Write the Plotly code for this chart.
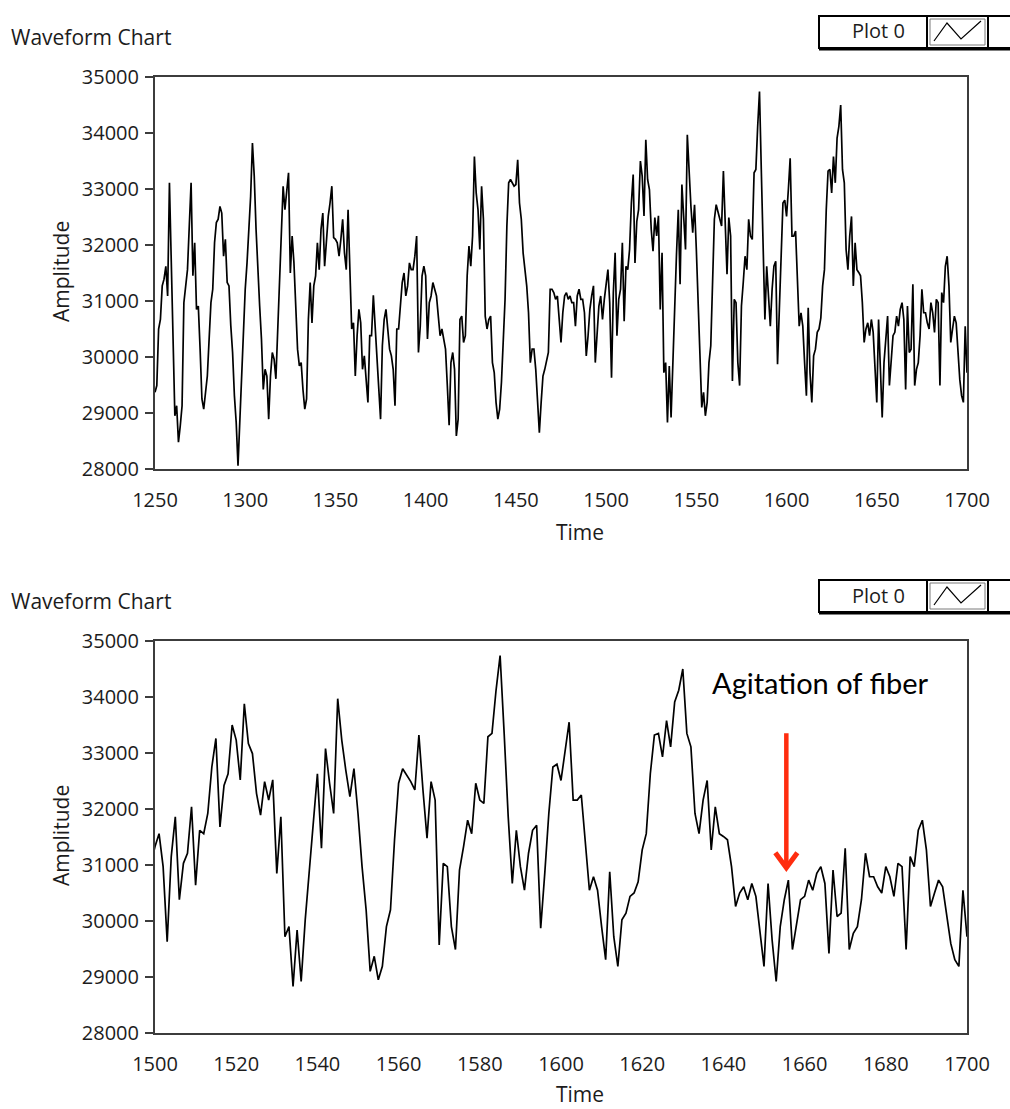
import plotly.graph_objects as go

# ---- data -------------------------------------------------------------
# Amplitude samples, one per time step (1250 .. 1499)
amplitude_early = [
    29370, 29490, 30500, 30670, 31270, 31390, 31620, 31090, 33110, 31560,
    29900, 28950, 29130, 28480, 28770, 29130, 30970, 31330, 31560, 32340,
    33110, 31450, 32040, 30850, 30910, 30140, 29250, 29070, 29420, 29660,
    30320, 30970, 31210, 32040, 32400, 32460, 32690, 32570, 31800, 32100,
    31330, 31270, 30560, 30080, 29310, 28830, 28060, 28830, 29720, 30500,
    31210, 31680, 32220, 32870, 33820, 33230, 32280, 31500, 30910, 30320,
    29420, 29780, 29660, 28890, 29660, 30080, 29960, 29610, 30500, 31500,
    32220, 33050, 32630, 32930, 33290, 31500, 32160, 31680, 30970, 30140,
    29840, 29900, 29420, 29070, 29250, 30670, 31330, 30610, 31270, 31450,
    32040, 31560, 32280, 32570, 31620, 32160, 32510, 32750, 33050, 32130,
    32100, 32040, 31800, 32100, 32460, 31860, 31560, 32630, 31680, 30500,
    30610, 29660, 30380, 30850, 30610, 29780, 30020, 29610, 29190, 30380,
    30380, 31100, 30500, 30080, 29490, 28890, 30200, 30670, 30850, 30440,
    30140, 30020, 29780, 29130, 30500, 30500, 30910, 31330, 31500, 31090,
    31270, 31680, 31560, 31560, 31800, 32160, 30080, 30550, 31450, 31620,
    31450, 30320, 30970, 31090, 31330, 31210, 31090, 30730, 30380, 30500,
    30320, 30140, 29490, 28780, 29900, 30080, 29780, 28590, 28890, 30670,
    30730, 30260, 30380, 31450, 31980, 31620, 32160, 33580, 32930, 32630,
    31920, 33050, 32460, 30730, 30500, 30670, 30730, 29900, 29720, 29190,
    28890, 29070, 29550, 30260, 31030, 32340, 33110, 33170, 33110, 33050,
    33080, 33520, 32750, 32460, 31860, 31560, 31270, 30790, 29900, 30140,
    30140, 29780, 29250, 28650, 29190, 29660, 29780, 29960, 30080, 31210,
    31210, 31150, 31030, 31090, 30730, 30260, 30790, 31090, 31150, 31030,
    31090, 30970, 30970, 30550, 31090, 31210, 31030, 31030, 30790, 30020,
    30380, 30850, 31090, 31270, 29900, 30440, 30910, 31090, 30670, 31030,
]

# Amplitude samples, one per time step (1500 .. 1700)
amplitude_late = [
    31330, 31560, 30970, 29630, 31150, 31860, 30380, 31030, 31210, 32040,
    30640, 31620, 31560, 31920, 32750, 33260, 31680, 32420, 32630, 33500,
    33230, 32520, 33880, 33170, 32990, 32280, 31890, 32490, 32160, 32520,
    30850, 31860, 29720, 29900, 28830, 29840, 28920, 30020, 30850, 31830,
    32630, 31300, 33080, 32460, 31920, 33970, 33230, 32690, 32220, 32720,
    31920, 30970, 30200, 29100, 29370, 28950, 29190, 29900, 30200, 31450,
    32460, 32720, 32600, 32490, 32340, 33320, 32340, 31480, 32490, 32160,
    29570, 31030, 30970, 29900, 29490, 30910, 31330, 31800, 31560, 32460,
    32160, 32100, 33290, 33350, 34120, 34740, 33350, 31860, 30670, 31620,
    30970, 30550, 31210, 31620, 31710, 29870, 30850, 31920, 32750, 32800,
    32510, 32990, 33550, 32160, 32160, 32250, 31330, 30550, 30790, 30550,
    29900, 29310, 30880, 29720, 29190, 30020, 30140, 30440, 30500, 30700,
    31270, 31560, 32630, 33320, 33350, 32930, 33580, 33110, 33910, 34120,
    34500, 33350, 33110, 31920, 31560, 32160, 32510, 31270, 32040, 31560,
    31510, 31450, 30970, 30260, 30500, 30610, 30380, 30670, 30440, 29840,
    29190, 30670, 29660, 28920, 29900, 30380, 30730, 29490, 29900, 30380,
    30440, 30730, 30550, 30850, 30970, 30670, 29420, 30910, 30080, 30140,
    31300, 29490, 29780, 29900, 30380, 31210, 30790, 30790, 30610, 30500,
    30970, 30790, 30440, 31030, 30970, 29490, 31150, 30970, 31620, 31800,
    31270, 30260, 30500, 30730, 30610, 30080, 29600, 29310, 29190, 30550,
    29720,
]

amplitude = amplitude_early + amplitude_late
time = list(range(1250, 1250 + len(amplitude)))

amp_ticks = [28000, 29000, 30000, 31000, 32000, 33000, 34000, 35000]
amp_tick_labels = [str(v) for v in amp_ticks]
time_ticks_full = [1250, 1300, 1350, 1400, 1450, 1500, 1550, 1600, 1650, 1700]
time_ticks_zoom = [1500, 1520, 1540, 1560, 1580, 1600, 1620, 1640, 1660, 1680, 1700]

chart_title = "Waveform Chart"
legend_label = "Plot 0"
x_title = "Time"
y_title = "Amplitude"
note_text = "Agitation of fiber"
note_time = 1655.5          # where the arrow points
note_amp_tip = 30950
note_amp_tail = 33380

# ---- page geometry (pixels) ------------------------------------------
W, H = 1010, 1109
FONT = "Open Sans, Noto Sans, sans-serif"
INK = "#1c1c1c"
FRAME = "#3c3c3c"
RED = "#FF2D0F"


def px(x):
    return x / W


def py(y):
    return 1 - y / H


PLOT_L, PLOT_R = 155, 967
panels = [
    # (top px, bottom px, vertical offset of the panel header)
    (77, 469, 0),
    (641, 1033, 564),
]

fig = go.Figure()

line_style = dict(color="black", width=1.7)
fig.add_trace(go.Scatter(x=time, y=amplitude, mode="lines", line=line_style,
                         xaxis="x", yaxis="y", hoverinfo="skip"))
fig.add_trace(go.Scatter(x=time, y=amplitude, mode="lines", line=line_style,
                         xaxis="x2", yaxis="y2", hoverinfo="skip"))


def x_axis(anchor, rng, ticks):
    return dict(
        domain=[px(PLOT_L), px(PLOT_R)], anchor=anchor, range=rng, automargin=False,
        tickmode="array", tickvals=ticks, ticktext=[str(t) for t in ticks],
        showgrid=False, zeroline=False, showline=True, mirror=True,
        linecolor=FRAME, linewidth=2, ticks="", ticklabelstandoff=12,
        tickfont=dict(family=FONT, size=20, color=INK),
    )


def y_axis(anchor, top, bottom):
    return dict(
        domain=[py(bottom), py(top)], anchor=anchor, range=[28000, 35000], automargin=False,
        tickmode="array", tickvals=amp_ticks, ticktext=amp_tick_labels,
        showgrid=False, zeroline=False, showline=True, mirror=True,
        linecolor=FRAME, linewidth=2, ticks="outside", ticklen=8,
        tickwidth=1.5, tickcolor=FRAME, ticklabelstandoff=2,
        tickfont=dict(family=FONT, size=20, color=INK),
    )


fig.update_layout(
    template="none",
    width=W, height=H, autosize=False,
    margin=dict(l=0, r=0, t=0, b=0, pad=0),
    paper_bgcolor="white", plot_bgcolor="white", showlegend=False,
    xaxis=x_axis("y", [1250, 1700], time_ticks_full),
    yaxis=y_axis("x", panels[0][0], panels[0][1]),
    xaxis2=x_axis("y2", [1500, 1700], time_ticks_zoom),
    yaxis2=y_axis("x2", panels[1][0], panels[1][1]),
)

annotations = []
shapes = []
for top, bottom, off in panels:
    # chart caption
    annotations.append(dict(text=chart_title, x=px(9), y=py(37 + off), xref="paper", yref="paper",
                            xanchor="left", yanchor="middle", showarrow=False,
                            font=dict(family=FONT, size=21, color=INK)))
    # axis titles
    annotations.append(dict(text=x_title, x=px(580), y=py(532 + off - (2 if off else 0)),
                            xref="paper", yref="paper",
                            xanchor="center", yanchor="middle", showarrow=False,
                            font=dict(family=FONT, size=21, color=INK)))
    annotations.append(dict(text=y_title, x=px(61), y=py(272 + off), xref="paper", yref="paper",
                            xanchor="center", yanchor="middle", showarrow=False, textangle=-90,
                            font=dict(family=FONT, size=21, color=INK)))
    # plot legend box
    y0, y1 = 16 + off, 48 + off
    shapes.append(dict(type="rect", xref="paper", yref="paper", x0=px(819), x1=px(1012),
                       y0=py(y1), y1=py(y0), line=dict(color="black", width=2), fillcolor="white"))
    shapes.append(dict(type="line", xref="paper", yref="paper", x0=px(819), x1=px(1010),
                       y0=py(y1 + 1), y1=py(y1 + 1), line=dict(color="black", width=3)))
    shapes.append(dict(type="line", xref="paper", yref="paper", x0=px(927), x1=px(927),
                       y0=py(y1), y1=py(y0), line=dict(color="black", width=2)))
    shapes.append(dict(type="rect", xref="paper", yref="paper", x0=px(930), x1=px(985),
                       y0=py(y1 - 3), y1=py(y0 + 3), line=dict(color="#7a7a7a", width=1)))
    shapes.append(dict(type="line", xref="paper", yref="paper", x0=px(988), x1=px(988),
                       y0=py(y1), y1=py(y0), line=dict(color="black", width=2)))
    zig = [(934, 41), (947, 23), (961, 39), (981, 21)]
    path = "M " + " L ".join(f"{px(a)},{py(b + off)}" for a, b in zig)
    shapes.append(dict(type="path", xref="paper", yref="paper", path=path,
                       line=dict(color="black", width=1.2)))
    annotations.append(dict(text=legend_label, x=px(878), y=py(31 + off), xref="paper", yref="paper",
                            xanchor="center", yanchor="middle", showarrow=False,
                            font=dict(family=FONT, size=20, color=INK)))

# note on the zoomed panel
annotations.append(dict(text=note_text, x=px(820), y=py(682), xref="paper", yref="paper",
                        xanchor="center", yanchor="middle", showarrow=False,
                        font=dict(family="Lato, Open Sans, sans-serif", size=29, color="black")))
annotations.append(dict(x=note_time, y=note_amp_tip, ax=note_time, ay=note_amp_tail,
                        xref="x2", yref="y2", axref="x2", ayref="y2", text="",
                        showarrow=True, arrowhead=0, arrowwidth=4.5, arrowcolor=RED,
                        standoff=0))
# open "V" arrow head, arms rising from the tip
head = [(-11, -15), (0, 0), (11, -15)]
tip_px_x = PLOT_L + (note_time - 1500) * (PLOT_R - PLOT_L) / 200
tip_px_y = 641 + (35000 - note_amp_tip) * (1033 - 641) / 7000
hpath = "M " + " L ".join(f"{px(tip_px_x + a)},{py(tip_px_y + b)}" for a, b in head)
shapes.append(dict(type="path", xref="paper", yref="paper", path=hpath,
                   line=dict(color=RED, width=5)))

fig.update_layout(annotations=annotations, shapes=shapes)
fig.write_html("out.html")
